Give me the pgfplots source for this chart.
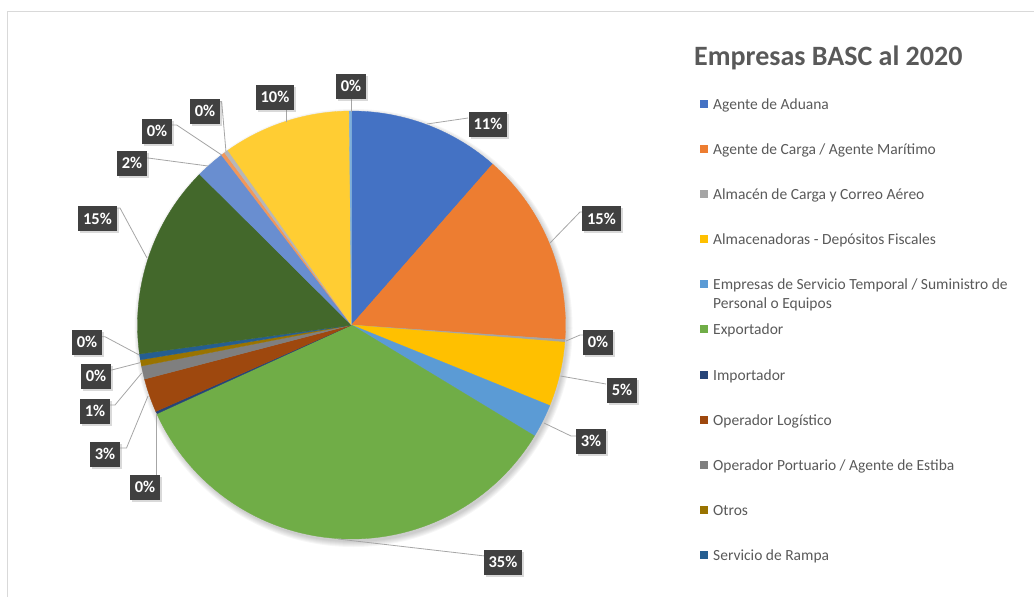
\documentclass[border=0pt]{standalone}
\usepackage{pgfplots}
\pgfplotsset{compat=1.18}
\usepackage{pgfplotstable}
\usepackage{fontspec}
\setmainfont{Carlito}
\usetikzlibrary{shadows}

\definecolor{c1}{HTML}{4472C4}
\definecolor{c2}{HTML}{ED7D31}
\definecolor{c3}{HTML}{A5A5A5}
\definecolor{c4}{HTML}{FFC000}
\definecolor{c5}{HTML}{5B9BD5}
\definecolor{c6}{HTML}{70AD47}
\definecolor{c7}{HTML}{264478}
\definecolor{c8}{HTML}{9E480E}
\definecolor{c9}{HTML}{7F7F7F}
\definecolor{c10}{HTML}{997300}
\definecolor{c11}{HTML}{255E91}
\definecolor{c12}{HTML}{43682B}
\definecolor{c13}{HTML}{698ED0}
\definecolor{c14}{HTML}{F1975A}
\definecolor{c15}{HTML}{B7B7B7}
\definecolor{c16}{HTML}{FFCD33}
\definecolor{c17}{HTML}{7CAFDD}
\definecolor{txt}{HTML}{595959}
\definecolor{boxc}{HTML}{404040}
\definecolor{lead}{HTML}{A6A6A6}

% share of each slice, in percent, clockwise from 12 o'clock
\pgfplotstableread{
val col
11.46 c1
14.63 c2
0.19 c3
4.86 c4
2.53 c5
34.52 c6
0.19 c7
2.55 c8
1.00 c9
0.47 c10
0.44 c11
14.60 c12
2.17 c13
0.28 c14
0.31 c15
9.63 c16
0.17 c17
}\piedata

\tikzset{
  lbox/.style={fill=boxc, text=white, font=\fontsize{16.5bp}{18bp}\selectfont\bfseries,
    inner xsep=5bp, inner ysep=0bp, minimum height=25bp,
    drop shadow={shadow xshift=2bp, shadow yshift=-2bp, opacity=0.3}},
  leader/.style={draw=lead, line width=0.8bp},
  legtxt/.style={anchor=base west, inner sep=0pt, text=txt, font=\fontsize{15.5bp}{18bp}\selectfont},
}
\newcommand\legsq[2]{\fill[#2] (axis cs:700,#1-4.2) rectangle (axis cs:708.4,#1+4.2);}

\begin{document}
\begin{tikzpicture}
\begin{axis}[
  name=ax, width=1034bp, height=596bp, scale only axis,
  xmin=0, xmax=1034, ymin=0, ymax=596, y dir=reverse,
  hide axis, clip=false,
]
\coordinate (BL) at (axis cs:0,596);
\coordinate (TR) at (axis cs:1034,0);
% frame
\draw[color=black!15, line width=1.5bp] (axis cs:7.5,11.5) rectangle (axis cs:1100,660);
% soft shadow
\fill[black, opacity=0.035] (axis cs:353.5,328) circle[radius=214bp];
\fill[black, opacity=0.035] (axis cs:353.5,328) circle[radius=215bp];
\fill[black, opacity=0.035] (axis cs:353.5,328) circle[radius=216bp];
\fill[black, opacity=0.035] (axis cs:353.5,328) circle[radius=217bp];
\fill[black, opacity=0.035] (axis cs:353.5,328) circle[radius=218bp];
\fill[black, opacity=0.035] (axis cs:353.5,328) circle[radius=219bp];
% wedges
\pgfplotstablegetrowsof{\piedata}
\pgfmathtruncatemacro{\nrows}{\pgfplotsretval-1}
\def\cum{0}
\pgfplotsforeachungrouped \i in {0,...,\nrows}{%
  \pgfplotstablegetelem{\i}{val}\of\piedata \let\pv\pgfplotsretval
  \pgfplotstablegetelem{\i}{col}\of\piedata \let\pc\pgfplotsretval
  \pgfmathsetmacro{\pStart}{\cum*3.6}%
  \pgfmathsetmacro{\cumnew}{\cum+\pv}%
  \pgfmathsetmacro{\pEnd}{\cumnew*3.6}%
  \let\cum\cumnew
  \pgfmathtruncatemacro{\ns}{max(3, ceil((\pEnd-\pStart)/1.5)+1)}%
  \edef\temp{\noexpand\addplot[fill=\pc, draw=\pc, line width=0.3bp, domain=\pStart:\pEnd, samples=\ns]
    ({351.5+214*sin(x)}, {325-214*cos(x)}) -- (axis cs:351.5,325) -- cycle;}%
  \temp
}
% leader lines
\draw[leader] (axis cs:427,124) -- (axis cs:468,118);
\draw[leader] (axis cs:550,243) -- (axis cs:580,212) -- (axis cs:583,212);
\draw[leader] (axis cs:566,341) -- (axis cs:580,335) -- (axis cs:583,335);
\draw[leader] (axis cs:560.5,376) -- (axis cs:606,384);
\draw[leader] (axis cs:544,423) -- (axis cs:571,436) -- (axis cs:577,436);
\draw[leader] (axis cs:338,539) -- (axis cs:485,556);
\draw[leader] (axis cs:156,413) -- (axis cs:156,475);
\draw[leader] (axis cs:148,396) -- (axis cs:126.5,448) -- (axis cs:119,448);
\draw[leader] (axis cs:141.7,373) -- (axis cs:115,405) -- (axis cs:110,405);
\draw[leader] (axis cs:140,362.7) -- (axis cs:111.7,370) -- (axis cs:110,370);
\draw[leader] (axis cs:139.3,355) -- (axis cs:105,336.7) -- (axis cs:100,336.7);
\draw[leader] (axis cs:147,258) -- (axis cs:120,208) -- (axis cs:116,208);
\draw[leader] (axis cs:208,166) -- (axis cs:148,158) -- (axis cs:146,158);
\draw[leader] (axis cs:221.7,155) -- (axis cs:176.7,125) -- (axis cs:171,125);
\draw[leader] (axis cs:226,152) -- (axis cs:221.7,101.7) -- (axis cs:219,101.7);
\draw[leader] (axis cs:286,122) -- (axis cs:286,109);
\draw[leader] (axis cs:351,112) -- (axis cs:351,99);
% data labels
\node[lbox] at (axis cs:488,124) {11\%};
\node[lbox] at (axis cs:601.5,218.5) {15\%};
\node[lbox] at (axis cs:598,342) {0\%};
\node[lbox] at (axis cs:622,390) {5\%};
\node[lbox] at (axis cs:591,441) {3\%};
\node[lbox] at (axis cs:503,562) {35\%};
\node[lbox] at (axis cs:145,487) {0\%};
\node[lbox] at (axis cs:105,454) {3\%};
\node[lbox] at (axis cs:95,411) {1\%};
\node[lbox] at (axis cs:96,376) {0\%};
\node[lbox] at (axis cs:87,342) {0\%};
\node[lbox] at (axis cs:97.5,218.5) {15\%};
\node[lbox] at (axis cs:132,163) {2\%};
\node[lbox] at (axis cs:157,131) {0\%};
\node[lbox] at (axis cs:205,111) {0\%};
\node[lbox] at (axis cs:275,97) {10\%};
\node[lbox] at (axis cs:351,86) {0\%};
% title
\node[anchor=base west, inner sep=0pt, text=txt, font=\fontsize{28bp}{32bp}\selectfont\bfseries] at (axis cs:694,65) {Empresas BASC al 2020};
% legend
\legsq{104}{c1}\node[legtxt] at (axis cs:713,109) {Agente de Aduana};
\legsq{149}{c2}\node[legtxt] at (axis cs:713,154) {Agente de Carga / Agente Marítimo};
\legsq{194}{c3}\node[legtxt] at (axis cs:713,199) {Almacén de Carga y Correo Aéreo};
\legsq{239}{c4}\node[legtxt] at (axis cs:713,244) {Almacenadoras - Depósitos Fiscales};
\legsq{284}{c5}\node[legtxt] at (axis cs:713,289) {Empresas de Servicio Temporal / Suministro de};
\node[legtxt] at (axis cs:713,308) {Personal o Equipos};
\legsq{329}{c6}\node[legtxt] at (axis cs:713,334) {Exportador};
\legsq{375}{c7}\node[legtxt] at (axis cs:713,380) {Importador};
\legsq{420}{c8}\node[legtxt] at (axis cs:713,425) {Operador Logístico};
\legsq{465}{c9}\node[legtxt] at (axis cs:713,470) {Operador Portuario / Agente de Estiba};
\legsq{510}{c10}\node[legtxt] at (axis cs:713,515) {Otros};
\legsq{555}{c11}\node[legtxt] at (axis cs:713,560) {Servicio de Rampa};
\end{axis}
\pgfresetboundingbox
\useasboundingbox (BL) rectangle (TR);
\end{tikzpicture}
\end{document}
